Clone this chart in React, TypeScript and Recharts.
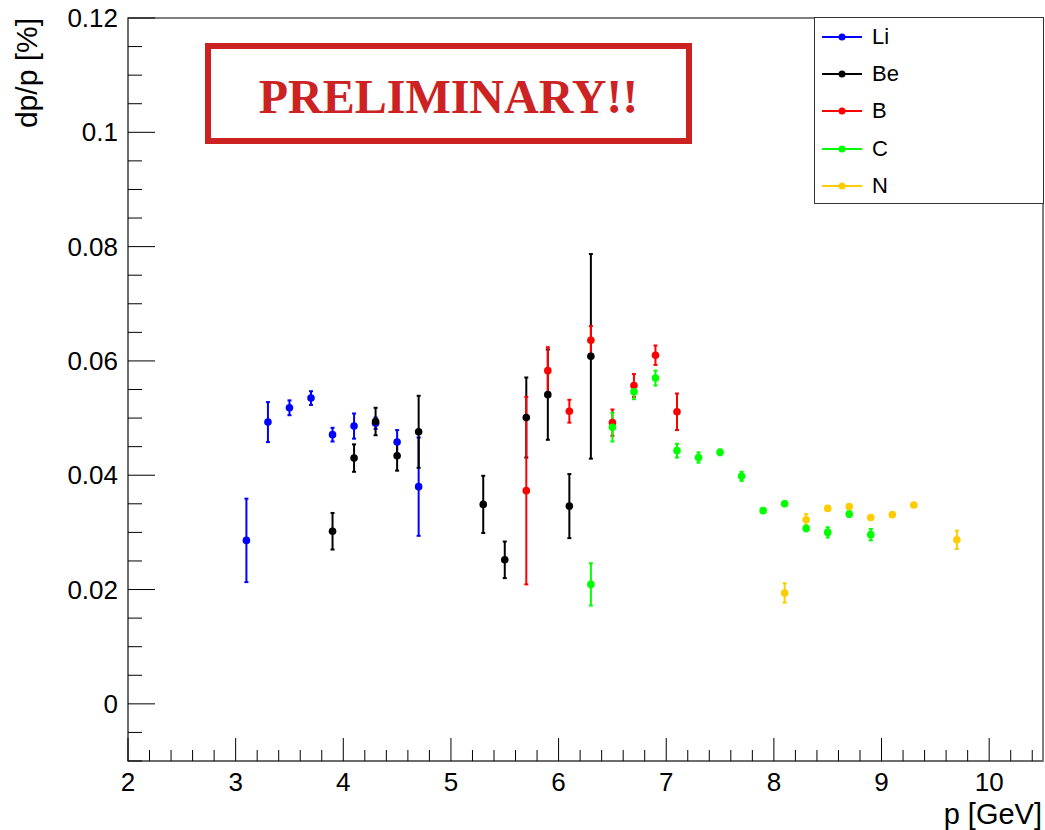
import React from 'react';
import { ScatterChart, Scatter, XAxis, YAxis, ErrorBar, Legend, ReferenceArea } from 'recharts';

// ---- axes ----
const xDomain: [number, number] = [2, 10.5];
const yDomain: [number, number] = [-0.01, 0.12];
const xMajorTicks = [2, 3, 4, 5, 6, 7, 8, 9, 10];
const yMajorTicks = [0, 0.02, 0.04, 0.06, 0.08, 0.1, 0.12];
const xMinorStep = 0.2;
const yMinorStep = 0.005;
const xTitle = 'p [GeV]';
const yTitle = 'dp/p [%]';

// ---- series: momentum, dp/p, error ----
const liP = [3.1, 3.3, 3.5, 3.7, 3.9, 4.1, 4.3, 4.5, 4.7];
const liV = [0.0286, 0.0493, 0.0518, 0.0535, 0.0471, 0.0486, 0.0491, 0.0458, 0.038];
const liE = [0.0073, 0.0035, 0.0013, 0.0012, 0.0012, 0.0022, 0.001, 0.0021, 0.0086];

const beP = [3.9, 4.1, 4.3, 4.5, 4.7, 5.3, 5.5, 5.7, 5.9, 6.1, 6.3];
const beV = [0.0302, 0.043, 0.0494, 0.0434, 0.0476, 0.0349, 0.0252, 0.0501, 0.0541, 0.0346, 0.0608];
const beE = [0.0032, 0.0024, 0.0024, 0.0026, 0.0063, 0.005, 0.0032, 0.007, 0.0079, 0.0056, 0.0179];

const bP = [5.7, 5.9, 6.1, 6.3, 6.5, 6.7, 6.9, 7.1];
const bV = [0.0373, 0.0583, 0.0512, 0.0636, 0.0492, 0.0557, 0.061, 0.0511];
const bE = [0.0164, 0.0041, 0.002, 0.0025, 0.0023, 0.002, 0.0017, 0.0032];

const cP = [6.3, 6.5, 6.7, 6.9, 7.1, 7.3, 7.5, 7.7, 7.9, 8.1, 8.3, 8.5, 8.7, 8.9];
const cV = [0.0209, 0.0484, 0.0546, 0.057, 0.0443, 0.0431, 0.044, 0.0398, 0.0338, 0.035, 0.0307, 0.03, 0.0332, 0.0296];
const cE = [0.0037, 0.0025, 0.0013, 0.0013, 0.0012, 0.0009, 0.0005, 0.0008, 0.0004, 0.0004, 0.0005, 0.0009, 0.0005, 0.001];

const nP = [8.1, 8.3, 8.5, 8.7, 8.9, 9.1, 9.3, 9.7];
const nV = [0.0194, 0.0322, 0.0342, 0.0345, 0.0326, 0.0331, 0.0348, 0.0287];
const nE = [0.0017, 0.001, 0.0004, 0.0004, 0.0003, 0.0003, 0.0003, 0.0016];

const seriesNames = ['Li', 'Be', 'B', 'C', 'N'];
const seriesColors = ['#0000ff', '#000000', '#ff0000', '#00ff00', '#ffcc00'];

const build = (p: number[], v: number[], e: number[]) => p.map((x, i) => ({ p: x, v: v[i], err: e[i] }));
const seriesData = [
  build(liP, liV, liE),
  build(beP, beV, beE),
  build(bP, bV, bE),
  build(cP, cV, cE),
  build(nP, nV, nE),
];

const rnd = (v: number) => Math.round(v * 1e9) / 1e9;
const makeTicks = (lo: number, hi: number, step: number) => {
  const n = Math.floor((hi - lo) / step + 1e-9) + 1;
  return Array.from({ length: n }, (_, i) => rnd(lo + i * step));
};
const xTicks = makeTicks(xDomain[0], xDomain[1], xMinorStep);
const yTicks = makeTicks(yDomain[0], yDomain[1], yMinorStep);
const isMajor = (v: number, majors: number[]) => majors.some((m) => Math.abs(m - v) < 1e-7);

const FONT = '"Liberation Sans", Arial, Helvetica, sans-serif';

const XTick = (props: any) => {
  const { x, y, payload } = props;
  const v = payload.value as number;
  const major = isMajor(v, xMajorTicks);
  return (
    <g>
      <line x1={x} x2={x} y1={y} y2={y - (major ? 23 : 11)} stroke="#000" strokeWidth={1} />
      {major && (
        <text x={x} y={y + 30} textAnchor="middle" fontSize={26} fontFamily={FONT} fill="#000">
          {String(v)}
        </text>
      )}
    </g>
  );
};

const YTick = (props: any) => {
  const { x, y, payload } = props;
  const v = payload.value as number;
  const major = isMajor(v, yMajorTicks);
  return (
    <g>
      <line x1={x} x2={x + (major ? 27 : 14)} y1={y} y2={y} stroke="#000" strokeWidth={1} />
      {major && (
        <text x={x - 10} y={y + 9} textAnchor="end" fontSize={26} fontFamily={FONT} fill="#000">
          {String(rnd(v))}
        </text>
      )}
    </g>
  );
};

const LegendBox = () => (
  <div
    style={{
      width: 230,
      height: 187,
      border: '1px solid #333',
      background: '#fff',
      boxSizing: 'border-box',
      position: 'relative',
      fontFamily: FONT,
    }}
  >
    {seriesNames.map((name, i) => (
      <div key={name} style={{ position: 'absolute', left: 0, top: 9 + i * 37.2, height: 20, width: 220 }}>
        <svg width={52} height={20} style={{ position: 'absolute', left: 0, top: 0 }}>
          <line x1={7} x2={47} y1={10} y2={10} stroke={seriesColors[i]} strokeWidth={2} />
          <circle cx={27} cy={10} r={3.5} fill={seriesColors[i]} />
        </svg>
        <span style={{ position: 'absolute', left: 57, top: -3, fontSize: 22, lineHeight: '26px', color: '#000' }}>{name}</span>
      </div>
    ))}
  </div>
);

export default function App() {
  return (
    <div style={{ position: 'absolute', left: 0, top: 0, width: 1045, height: 830, background: '#fff' }}>
      <ScatterChart width={1045} height={830} margin={{ top: 18, right: 2, bottom: 0, left: 0 }}>
        <ReferenceArea
          x1={xDomain[0]}
          x2={xDomain[1]}
          y1={yDomain[0]}
          y2={yDomain[1]}
          fill="none"
          stroke="#555"
          strokeWidth={1.5}
          fillOpacity={0}
        />
        <XAxis
          type="number"
          dataKey="p"
          domain={xDomain}
          ticks={xTicks}
          interval={0}
          tickSize={0}
          tickMargin={0}
          tickLine={false}
          axisLine={{ stroke: '#666', strokeWidth: 1.5 }}
          height={69}
          tick={<XTick />}
          allowDataOverflow
          label={{
            content: () => (
              <text x={1042} y={824} textAnchor="end" fontSize={29} fontFamily={FONT} fill="#000">
                {xTitle}
              </text>
            ),
          }}
        />
        <YAxis
          type="number"
          dataKey="v"
          domain={yDomain}
          ticks={yTicks}
          interval={0}
          tickSize={0}
          tickMargin={0}
          tickLine={false}
          axisLine={{ stroke: '#666', strokeWidth: 1.5 }}
          width={128}
          tick={<YTick />}
          allowDataOverflow
          label={{
            content: () => (
              <text
                x={37}
                y={18}
                textAnchor="end"
                fontSize={30}
                fontFamily={FONT}
                fill="#000"
                transform="rotate(-90 37 18)"
              >
                {yTitle}
              </text>
            ),
          }}
        />
        <Legend
          layout="horizontal"
          verticalAlign="middle"
          align="center"
          content={() => <LegendBox />}
          wrapperStyle={{ left: 814, top: 17, width: 230, height: 187 }}
        />
        {seriesData.map((d, i) => (
          <Scatter
            key={seriesNames[i]}
            name={seriesNames[i]}
            data={d}
            fill={seriesColors[i]}
            isAnimationActive={false}
            shape={(props: any) => <circle cx={props.cx} cy={props.cy} r={3.8} fill={seriesColors[i]} />}
          >
            <ErrorBar dataKey="err" direction="y" width={2} stroke={seriesColors[i]} strokeWidth={2} />
          </Scatter>
        ))}
      </ScatterChart>
      <div
        style={{
          position: 'absolute',
          left: 205,
          top: 43,
          width: 487,
          height: 101,
          border: '6px solid #cc2222',
          boxSizing: 'border-box',
          display: 'flex',
          alignItems: 'center',
          justifyContent: 'center',
          paddingTop: 5,
          fontFamily: '"Liberation Serif", "Times New Roman", serif',
          fontWeight: 'bold',
          fontSize: 48,
          color: '#cc2222',
          background: 'transparent',
        }}
      >
        PRELIMINARY!!
      </div>
    </div>
  );
}
